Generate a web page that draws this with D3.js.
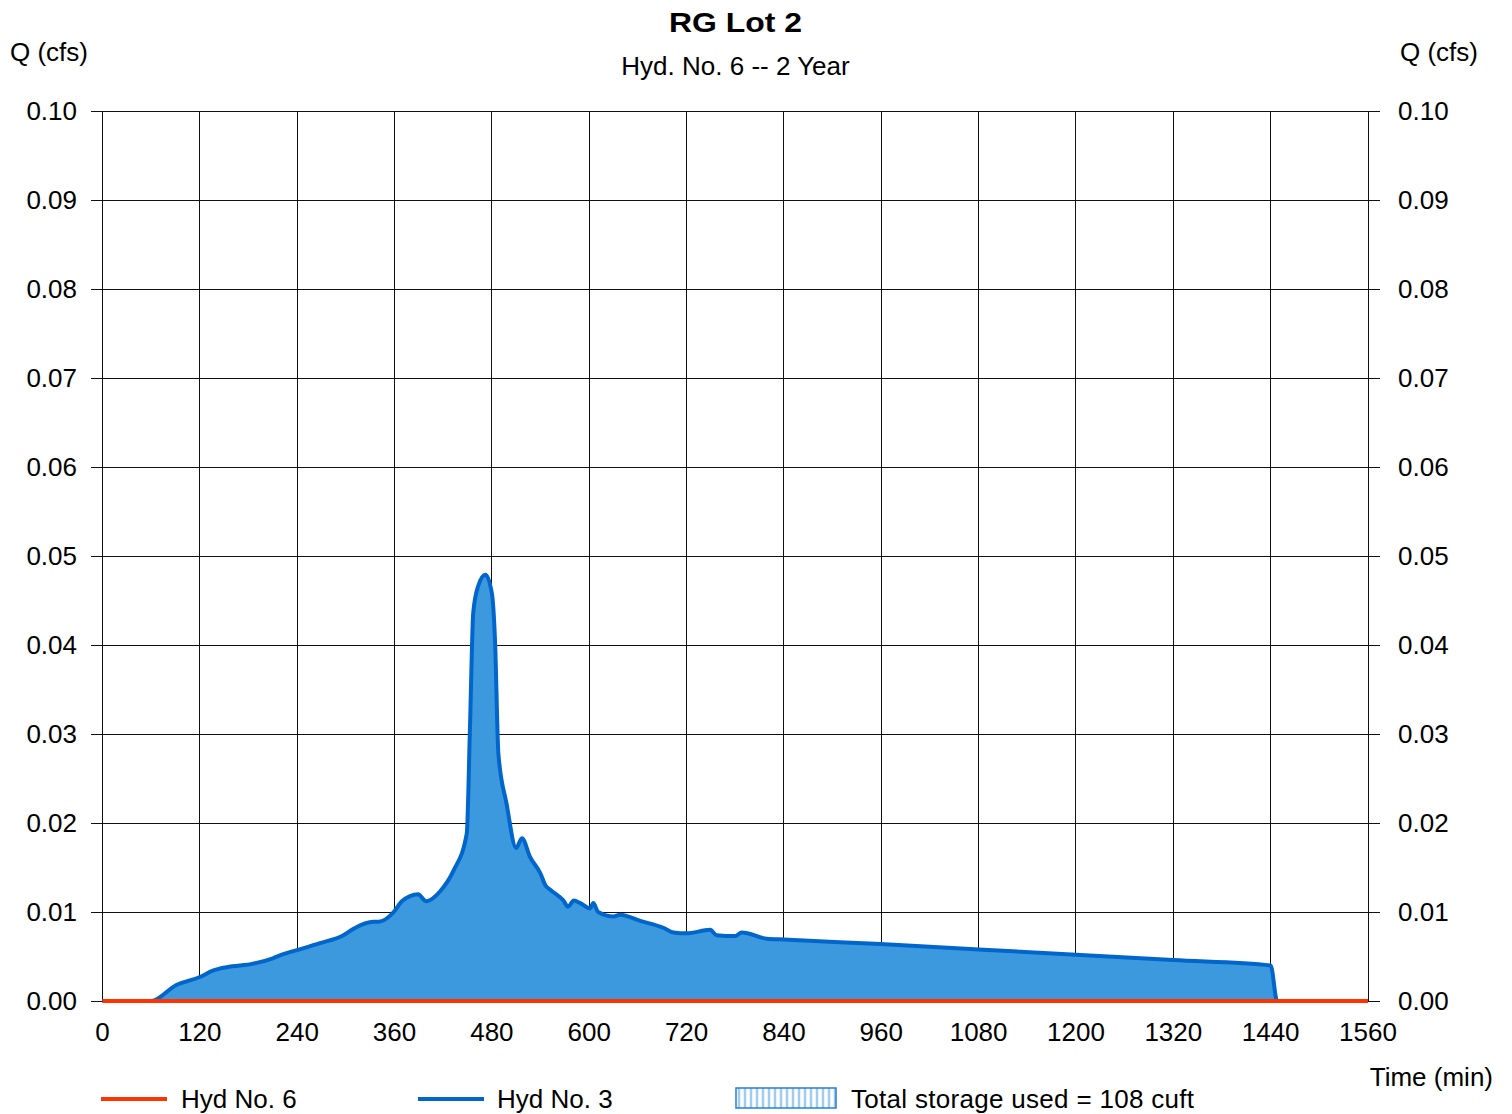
<!DOCTYPE html>
<html>
<head>
<meta charset="utf-8">
<script src="https://cdn.jsdelivr.net/npm/d3@7"></script>
<style>
  body { margin: 0; background: #fff; }
  text { font-family: "Liberation Sans", Arial, sans-serif; fill: #000; }
</style>
</head>
<body>
<div id="chart"></div>
<script>
// Data
const timeMin = [0, 60, 91, 120, 136, 153, 186, 210, 221, 243, 268, 297, 309, 334, 340, 359, 369, 389, 399, 416, 433, 449, 453, 457, 463, 472, 480, 484, 488, 498, 510, 517, 527, 540, 546, 552, 568, 574, 581, 589, 601, 605, 611, 630, 638, 663, 692, 704, 720, 749, 757, 780, 788, 819, 840, 959, 1080, 1200, 1320, 1440, 1448, 1560];
const hyd3 = [0, 0, 0.0018, 0.0027, 0.0034, 0.0038, 0.0042, 0.0048, 0.0052, 0.0058, 0.0065, 0.0074, 0.0081, 0.0089, 0.0089, 0.0100, 0.0112, 0.0120, 0.0112, 0.0123, 0.0147, 0.0188, 0.0308, 0.0436, 0.0466, 0.0479, 0.0458, 0.0402, 0.0278, 0.0222, 0.0172, 0.0183, 0.0162, 0.0143, 0.0130, 0.0125, 0.0113, 0.0106, 0.0113, 0.0110, 0.0104, 0.0110, 0.0100, 0.0095, 0.0097, 0.0090, 0.0082, 0.0077, 0.0076, 0.0080, 0.0074, 0.0073, 0.0077, 0.0070, 0.0069, 0.0064, 0.0058, 0.0052, 0.0046, 0.0040, 0, 0];
const hyd6Time = [0, 1560];
const hyd6 = [0, 0];
const xTicks = [0, 120, 240, 360, 480, 600, 720, 840, 960, 1080, 1200, 1320, 1440, 1560];
const yTicks = [0, 0.01, 0.02, 0.03, 0.04, 0.05, 0.06, 0.07, 0.08, 0.09, 0.10];
const storageUsed = 108;

// Setup
const width = 1512, height = 1114;
const margin = { top: 111, right: 144, bottom: 113, left: 102.5 };
const red = "#ff3300", blue = "#0066cc", fill = "#3d99de";
const fs = 26;

const svg = d3.select("#chart").append("svg")
  .attr("width", width).attr("height", height);

const x = d3.scaleLinear().domain([0, 1560]).range([margin.left, width - margin.right]);
const y = d3.scaleLinear().domain([0, 0.10]).range([height - margin.bottom, margin.top]);

// Grid
svg.append("g").attr("shape-rendering", "crispEdges")
  .selectAll("line").data(xTicks).join("line")
  .attr("x1", d => x(d)).attr("x2", d => x(d))
  .attr("y1", y(0)).attr("y2", y(0.10))
  .attr("stroke", "#111").attr("stroke-width", 1);

svg.append("g").attr("shape-rendering", "crispEdges")
  .selectAll("line").data(yTicks).join("line")
  .attr("x1", x(0) - 12).attr("x2", x(1560) + 12)
  .attr("y1", d => y(d)).attr("y2", d => y(d))
  .attr("stroke", "#111").attr("stroke-width", 1);

// Hyd No. 3 area
const pts3 = timeMin.map((t, i) => [t, hyd3[i]]);
svg.append("path").datum(pts3)
  .attr("fill", fill)
  .attr("d", d3.area().x(d => x(d[0])).y0(y(0)).y1(d => y(d[1])).curve(d3.curveMonotoneX));
svg.append("path").datum(pts3)
  .attr("fill", "none").attr("stroke", blue).attr("stroke-width", 4).attr("stroke-linejoin", "round")
  .attr("d", d3.line().x(d => x(d[0])).y(d => y(d[1])).curve(d3.curveMonotoneX));

// Hyd No. 6
svg.append("path").datum(hyd6Time.map((t, i) => [t, hyd6[i]]))
  .attr("fill", "none").attr("stroke", red).attr("stroke-width", 4)
  .attr("d", d3.line().x(d => x(d[0])).y(d => y(d[1])));

// Tick labels
svg.append("g").selectAll("text").data(yTicks).join("text")
  .attr("x", 77).attr("y", d => y(d) + 9).attr("text-anchor", "end")
  .attr("font-size", fs).text(d => d.toFixed(2));
svg.append("g").selectAll("text").data(yTicks).join("text")
  .attr("x", 1398).attr("y", d => y(d) + 9)
  .attr("font-size", fs).text(d => d.toFixed(2));
svg.append("g").selectAll("text").data(xTicks).join("text")
  .attr("x", d => x(d)).attr("y", 1041).attr("text-anchor", "middle")
  .attr("font-size", fs).text(d => d);

// Titles
svg.append("text").attr("x", 669).attr("y", 32)
  .attr("font-size", 28).attr("font-weight", "bold")
  .attr("textLength", 133).attr("lengthAdjust", "spacingAndGlyphs").text("RG Lot 2");
svg.append("text").attr("x", 735.5).attr("y", 75).attr("text-anchor", "middle")
  .attr("font-size", fs).text("Hyd. No. 6 -- 2 Year");
svg.append("text").attr("x", 10).attr("y", 61).attr("font-size", fs).text("Q (cfs)");
svg.append("text").attr("x", 1478).attr("y", 61).attr("text-anchor", "end").attr("font-size", fs).text("Q (cfs)");
svg.append("text").attr("x", 1493).attr("y", 1086).attr("text-anchor", "end").attr("font-size", fs).text("Time (min)");

// Legend
const leg = svg.append("g");
leg.append("line").attr("x1", 101).attr("x2", 167).attr("y1", 1099).attr("y2", 1099)
  .attr("stroke", red).attr("stroke-width", 4);
leg.append("text").attr("x", 181).attr("y", 1108).attr("font-size", fs).text("Hyd No. 6");
leg.append("line").attr("x1", 418).attr("x2", 484).attr("y1", 1099).attr("y2", 1099)
  .attr("stroke", blue).attr("stroke-width", 4);
leg.append("text").attr("x", 497).attr("y", 1108).attr("font-size", fs).text("Hyd No. 3");

const sw = leg.append("g").attr("transform", "translate(736,1088)");
sw.selectAll("line").data(d3.range(3, 100, 6)).join("line")
  .attr("x1", d => d).attr("x2", d => d).attr("y1", 0).attr("y2", 20)
  .attr("stroke", "#9fcdf0").attr("stroke-width", 2.5);
sw.append("rect").attr("width", 100).attr("height", 20)
  .attr("fill", "none").attr("stroke", "#2b7fd4").attr("stroke-width", 1.5);
leg.append("text").attr("x", 851).attr("y", 1108).attr("font-size", fs)
  .attr("textLength", 343).text(`Total storage used = ${storageUsed} cuft`);
</script>
</body>
</html>
